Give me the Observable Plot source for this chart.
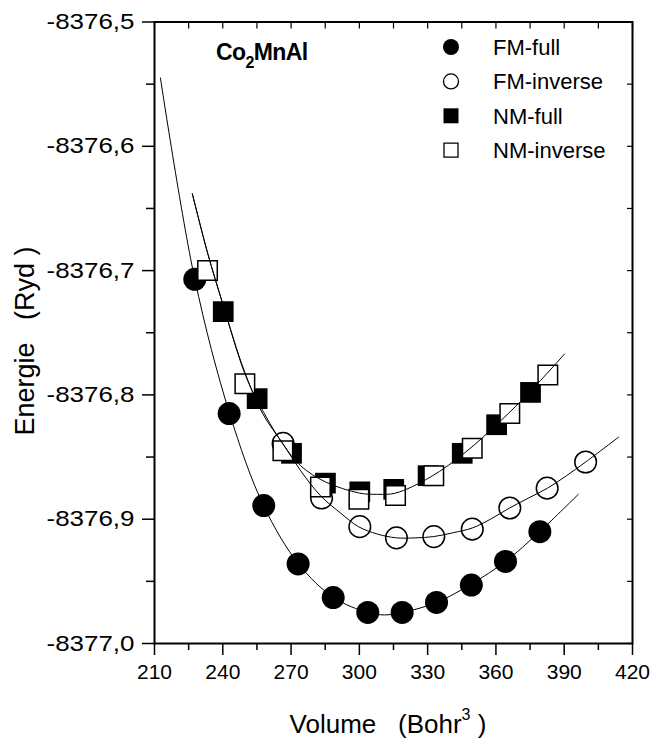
<!DOCTYPE html>
<html><head><meta charset="utf-8">
<script src="https://cdn.jsdelivr.net/npm/d3@7"></script>
<script src="https://cdn.jsdelivr.net/npm/@observablehq/plot@0.6"></script>
<style>body{margin:0;background:#fff;} #chart{width:655px;height:749px;}</style>
</head><body><div id="chart"></div>
<script>
// ---- data (Volume in Bohr^3, Energy in Ryd) ----
const fmFullV = [227.7, 242.8, 258.0, 273.1, 288.5, 303.7, 318.8, 333.9, 349.2, 364.2, 379.3];
const fmFullE = [-8376.707, -8376.815, -8376.889, -8376.936, -8376.963, -8376.975, -8376.975, -8376.967, -8376.953, -8376.934, -8376.910];

const fmInvV = [266.5, 283.4, 300.2, 316.3, 332.7, 349.6, 366.1, 382.5, 399.4];
const fmInvE = [-8376.839, -8376.883, -8376.906, -8376.915, -8376.914, -8376.908, -8376.891, -8376.875, -8376.854];

const nmFullV = [240.2, 255.1, 270.2, 285.1, 300.2, 315.1, 330.2, 345.2, 360.3, 375.2];
const nmFullE = [-8376.733, -8376.803, -8376.847, -8376.871, -8376.878, -8376.876, -8376.865, -8376.847, -8376.824, -8376.798];

const nmInvV = [233.3, 249.7, 266.4, 282.9, 299.8, 315.9, 332.7, 349.6, 366.1, 382.8];
const nmInvE = [-8376.700, -8376.791, -8376.845, -8376.874, -8376.884, -8376.881, -8376.865, -8376.843, -8376.815, -8376.784];

// fitted curves
const fitFMFullV = [212.6, 227.6, 243.0, 257.9, 273.3, 288.7, 303.6, 311.1, 319.0, 333.9, 349.3, 364.2, 379.2, 396.2];
const fitFMFullE = [-8376.545, -8376.706, -8376.815, -8376.889, -8376.936, -8376.963, -8376.975, -8376.977, -8376.975, -8376.967, -8376.952, -8376.934, -8376.910, -8376.880];

const fitFMInvV = [226.6, 233.2, 240.2, 249.5, 257.5, 266.7, 274.2, 282.9, 291.7, 299.6, 308.0, 316.3, 324.7, 332.6, 340.9, 349.7, 357.6, 366.0, 374.3, 382.7, 391.0, 399.4, 413.9];
const fitFMInvE = [-8376.638, -8376.685, -8376.728, -8376.781, -8376.815, -8376.840, -8376.861, -8376.881, -8376.895, -8376.906, -8376.912, -8376.915, -8376.915, -8376.914, -8376.911, -8376.907, -8376.900, -8376.891, -8376.883, -8376.875, -8376.865, -8376.854, -8376.834];

const fitNMV = [226.6, 233.2, 240.2, 249.5, 255.3, 266.2, 274.2, 285.1, 300.1, 308.0, 315.9, 331.3, 346.7, 362.0, 375.2, 390.2];
const fitNME = [-8376.638, -8376.685, -8376.728, -8376.782, -8376.805, -8376.839, -8376.857, -8376.870, -8376.879, -8376.880, -8376.879, -8376.866, -8376.846, -8376.821, -8376.797, -8376.767];

const xMajor = [210, 240, 270, 300, 330, 360, 390, 420];
const xMinor = [225, 255, 285, 315, 345, 375, 405];
const yMajor = [-8377.0, -8376.9, -8376.8, -8376.7, -8376.6, -8376.5];
const yMinor = [-8376.95, -8376.85, -8376.75, -8376.65, -8376.55];

const legendLabels = ["FM-full", "FM-inverse", "NM-full", "NM-inverse"];

const zip = (V, E) => V.map((v, i) => ({V: v, E: E[i]}));
const fmFull = zip(fmFullV, fmFullE), fmInv = zip(fmInvV, fmInvE);
const nmFull = zip(nmFullV, nmFullE), nmInv = zip(nmInvV, nmInvE);
const fitFMFull = zip(fitFMFullV, fitFMFullE), fitFMInv = zip(fitFMInvV, fitFMInvE), fitNM = zip(fitNMV, fitNME);

const font = "'Liberation Sans', Arial, Helvetica, sans-serif";
const comma = d => d.toFixed(1).replace(".", ",");
const blank = () => "";

const chart = Plot.plot({
  width: 655, height: 749,
  marginLeft: 154, marginRight: 23, marginTop: 21.5, marginBottom: 106,
  x: {domain: [210, 420]},
  y: {domain: [-8377.0, -8376.5]},
  style: {fontFamily: font, background: "white", color: "black", overflow: "visible"},
  marks: [
    Plot.dot(fmFull, {x: "V", y: "E", r: 11.5, fill: "black", stroke: "none"}),
    Plot.dot(fmInv, {x: "V", y: "E", r: 10.8, fill: "white", stroke: "black", strokeWidth: 1.5}),
    Plot.dot(nmFull, {x: "V", y: "E", symbol: "square", r: 11.7, fill: "black", stroke: "none"}),
    Plot.dot(nmInv, {x: "V", y: "E", symbol: "square", r: 11.0, fill: "white", stroke: "black", strokeWidth: 1.5}),
    Plot.line(fitFMFull, {x: "V", y: "E", curve: "catmull-rom", stroke: "black", strokeWidth: 1}),
    Plot.line(fitFMInv, {x: "V", y: "E", curve: "catmull-rom", stroke: "black", strokeWidth: 1}),
    Plot.line(fitNM, {x: "V", y: "E", curve: "catmull-rom", stroke: "black", strokeWidth: 1}),
    Plot.axisX({ticks: xMajor, tickSize: 12, tickPadding: 9, fontSize: 21, tickFormat: d => String(d), label: null, strokeWidth: 1.5}),
    Plot.axisX({ticks: xMinor, tickSize: 7, tickFormat: blank, label: null, strokeWidth: 1.5}),
    Plot.axisX({anchor: "top", ticks: [...xMajor, ...xMinor], tickSize: -6, tickFormat: blank, label: null, strokeWidth: 1.2}),
    Plot.axisY({ticks: yMajor, tickSize: 12, tickPadding: 8, fontSize: 22, tickFormat: comma, label: null, strokeWidth: 1.5}),
    Plot.axisY({ticks: yMinor, tickSize: 8, tickFormat: blank, label: null, strokeWidth: 1.5}),
    Plot.axisY({anchor: "right", ticks: [...yMajor, ...yMinor], tickSize: -6, tickFormat: blank, label: null, strokeWidth: 1.2}),
    Plot.frame({stroke: "black", strokeWidth: 2})
  ]
});
document.getElementById("chart").append(chart);

const svg = d3.select(chart);
// widen the y tick labels a little, as in the original
svg.selectAll('g[aria-label="y-axis tick label"] text').each(function() {
  const tr = this.getAttribute("transform") || "";
  this.setAttribute("transform", tr + " scale(1.18,1)");
});

// compound title
const t = svg.append("text").attr("x", 216).attr("y", 60).attr("text-anchor", "start")
  .attr("font-family", font).attr("font-weight", "bold").attr("font-size", 23).attr("letter-spacing", -0.6).attr("fill", "black");
t.append("tspan").text("Co");
t.append("tspan").attr("font-size", 16).attr("dy", 8).text("2");
t.append("tspan").attr("dy", -8).text("MnAl");

// legend
const sym = [
  {type: d3.symbolCircle, size: Math.PI * 8 * 8, fill: "black", stroke: "none"},
  {type: d3.symbolCircle, size: Math.PI * 7.5 * 7.5, fill: "white", stroke: "black"},
  {type: d3.symbolSquare, size: 15 * 15, fill: "black", stroke: "none"},
  {type: d3.symbolSquare, size: 14 * 14, fill: "white", stroke: "black"}
];
legendLabels.forEach((lab, i) => {
  const cy = 47 + i * 34.4;
  svg.append("path").attr("d", d3.symbol(sym[i].type, sym[i].size)())
    .attr("transform", `translate(451,${cy})`)
    .attr("fill", sym[i].fill).attr("stroke", sym[i].stroke).attr("stroke-width", 1.3);
  svg.append("text").attr("x", 493).attr("y", cy + 8).attr("text-anchor", "start")
    .attr("font-family", font).attr("font-size", 22).attr("fill", "black").text(lab);
});

// axis titles
const xt = svg.append("text").attr("x", 388).attr("y", 733).attr("text-anchor", "middle")
  .attr("font-family", font).attr("font-size", 26).attr("fill", "black").attr("xml:space", "preserve");
xt.append("tspan").text("Volume   (Bohr");
xt.append("tspan").attr("font-size", 16).attr("dy", -13).text("3");
xt.append("tspan").attr("dy", 13).text(" )");

svg.append("text").attr("transform", "translate(34,341) rotate(-90)").attr("text-anchor", "middle")
  .attr("font-family", font).attr("font-size", 27).attr("fill", "black").attr("xml:space", "preserve")
  .text("Energie   (Ryd )");
</script>
</body></html>
